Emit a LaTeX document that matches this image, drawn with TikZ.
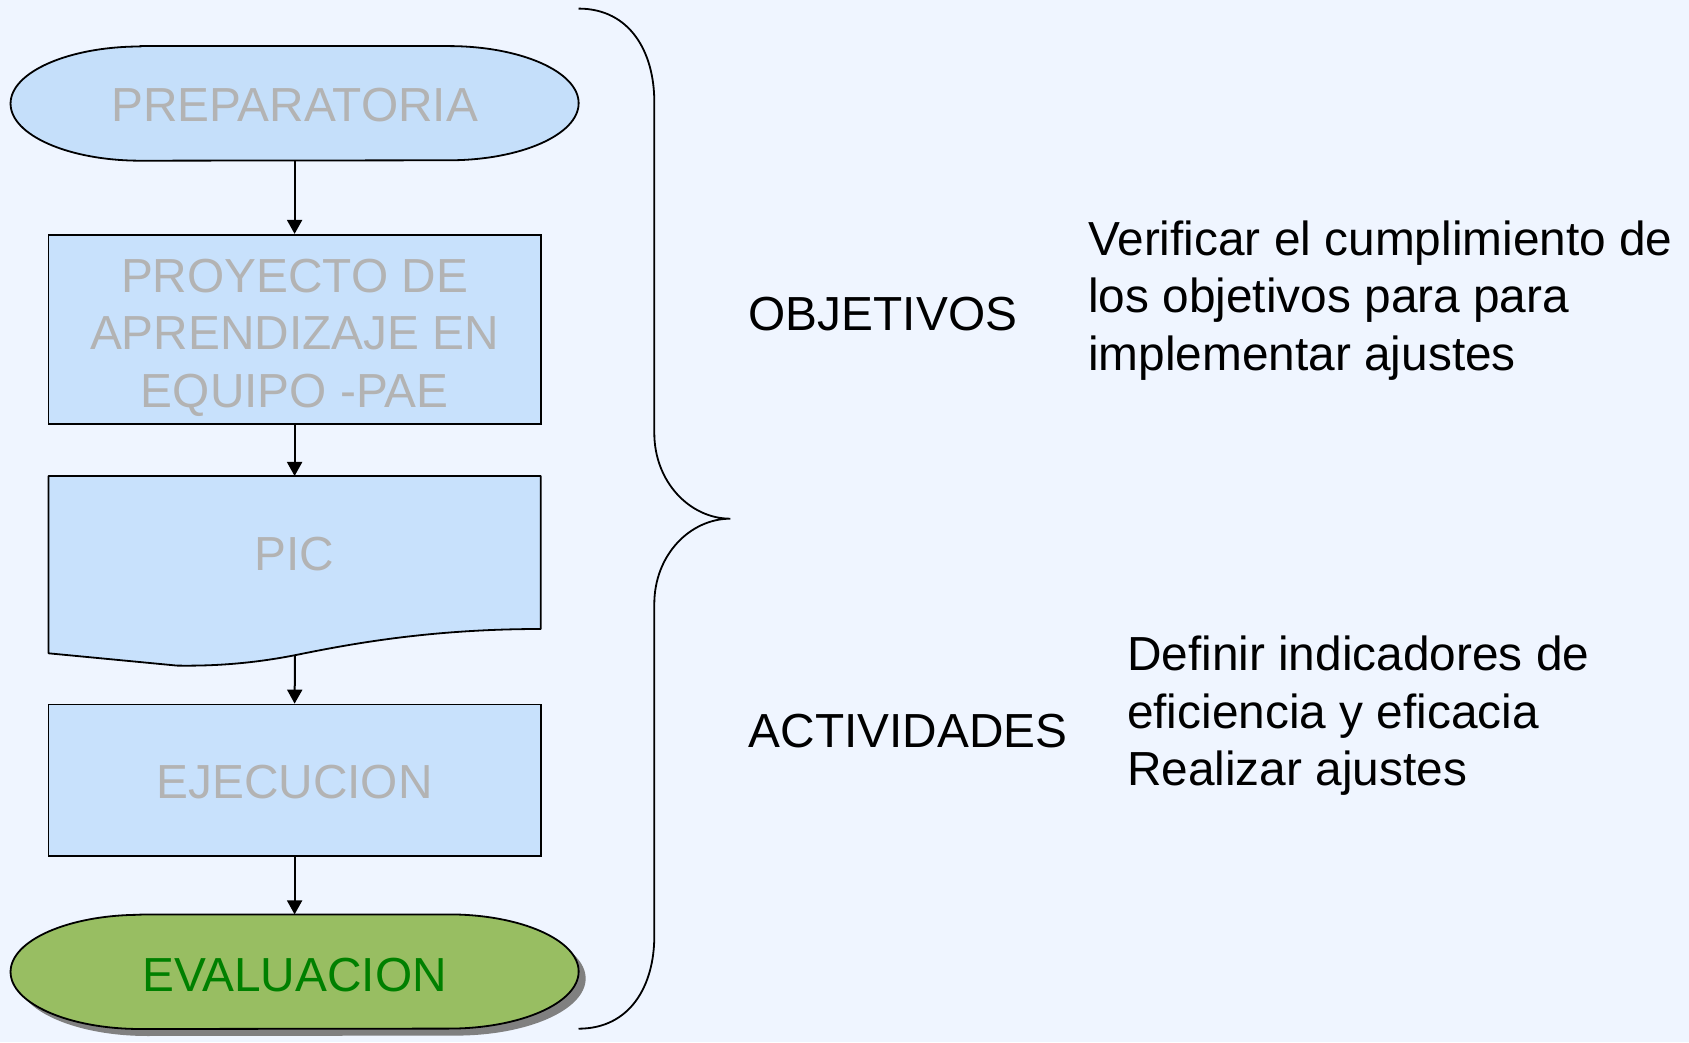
\documentclass[tikz,border=0pt]{standalone}
\usepackage{fontspec}
\setmainfont{Liberation Sans}
\usetikzlibrary{arrows.meta}
\definecolor{bgc}{HTML}{EFF5FF}
\definecolor{prepfill}{HTML}{C5DFFA}
\definecolor{boxfill}{HTML}{C8E1FC}
\definecolor{evalfill}{HTML}{98BE62}
\definecolor{evaltext}{HTML}{008000}
\definecolor{graytext}{HTML}{B3B3B3}
\definecolor{shadowc}{HTML}{808080}
\newcommand\myterminal[2]{%
  \path[#2] ([xshift=130pt]#1.north west) -- ([xshift=-130pt]#1.north east)
    arc[start angle=90,end angle=-90,x radius=130pt,y radius=57.1pt]
    -- ([xshift=130pt]#1.south west)
    arc[start angle=270,end angle=90,x radius=130pt,y radius=57.1pt] -- cycle;}
\begin{document}
\begin{tikzpicture}[x=1pt,y=1pt,
  big/.style={font=\fontsize{47.8}{57.5}\selectfont},
  termnode/.style={big,draw=none,minimum width=567.7pt,minimum height=114.2pt,inner sep=0pt,text=graytext},
  boxnode/.style={big,draw=black,line width=1.8pt,fill=boxfill,minimum width=492.2pt,inner sep=0pt,text=graytext,align=center},
  conn/.style={line width=2pt,-{Triangle[length=14pt,width=15pt]}},
  label/.style={big,inner sep=0pt,anchor=base west,align=left}]
\fill[bgc] (0,0) rectangle (1689,1042);
\useasboundingbox (0,0) rectangle (1689,1042);
% PREPARATORIA
\node[termnode] (prep) at (294.6,938.6) {};
\myterminal{prep}{fill=prepfill,draw=black,line width=1.8pt}
\node[big,text=graytext] (preptext) at (294.6,936.5) {PREPARATORIA};
% PROYECTO
\node[boxnode,minimum height=189.6pt] (proj) at (294.6,712.4) {};
\node[big,text=graytext,align=center,inner sep=0pt] (projtext) at (294.6,704.5) {PROYECTO DE\\APRENDIZAJE EN\\EQUIPO -PAE};
% PIC document shape
\path[fill=boxfill,draw=black,line width=1.8pt,line join=round]
  (48.5,566) -- (540.7,566) -- (540.7,413)
  .. controls (430,413) and (350,398) .. (295,386.8)
  .. controls (245,377) and (205,376) .. (177,376.4)
  -- (48.5,388.7) -- cycle;
\node[big,minimum width=492.2pt,minimum height=156pt,inner sep=0pt,text=graytext] (pic) at (294.6,488) {PIC};
\coordinate (picb) at (295,386.8);
% EJECUCION
\node[boxnode,minimum height=151.7pt] (ejec) at (294.6,261.6) {};
\node[big,text=graytext] (ejectext) at (294.6,259.5) {EJECUCION};
% EVALUACION
\node[termnode] (eval) at (294.6,70.3) {};
\myterminal{eval}{fill=shadowc,transform canvas={xshift=7pt,yshift=-7pt}}
\myterminal{eval}{fill=evalfill,draw=black,line width=1.8pt}
\node[big,text=evaltext] (evaltext) at (294.6,66.5) {EVALUACION};
% connectors
\draw[conn] (prep.south) -- (proj.north);
\draw[conn] (proj.south) -- (294.6,566);
\draw[conn] (picb) -- (ejec.north);
\draw[conn] (ejec.south) -- (eval.north);
% brace
\coordinate (btop) at (578.5,1033.4);
\coordinate (btip) at (730.3,523.3);
\coordinate (bbot) at (578.5,13.3);
\draw[line width=1.8pt]
  (btop) .. controls (630,1033.4) and (654.3,990) .. (654.3,940)
  -- (654.3,609) .. controls (654.3,560) and (690,523.3) .. (btip)
  .. controls (690,523.3) and (654.3,487) .. (654.3,438)
  -- (654.3,106) .. controls (654.3,56) and (630,13.3) .. (bbot);
% labels
\node[label] (obj) at (748.6,711.3) {OBJETIVOS};
\node[label] (act) at (748.6,294.6) {ACTIVIDADES};
\node[label] (objtext) at (1088,671.6) {Verificar el cumplimiento de\\los objetivos para para\\implementar ajustes};
\node[label] (acttext) at (1126.8,256) {Definir indicadores de\\eficiencia y eficacia\\Realizar ajustes};
\end{tikzpicture}
\end{document}
